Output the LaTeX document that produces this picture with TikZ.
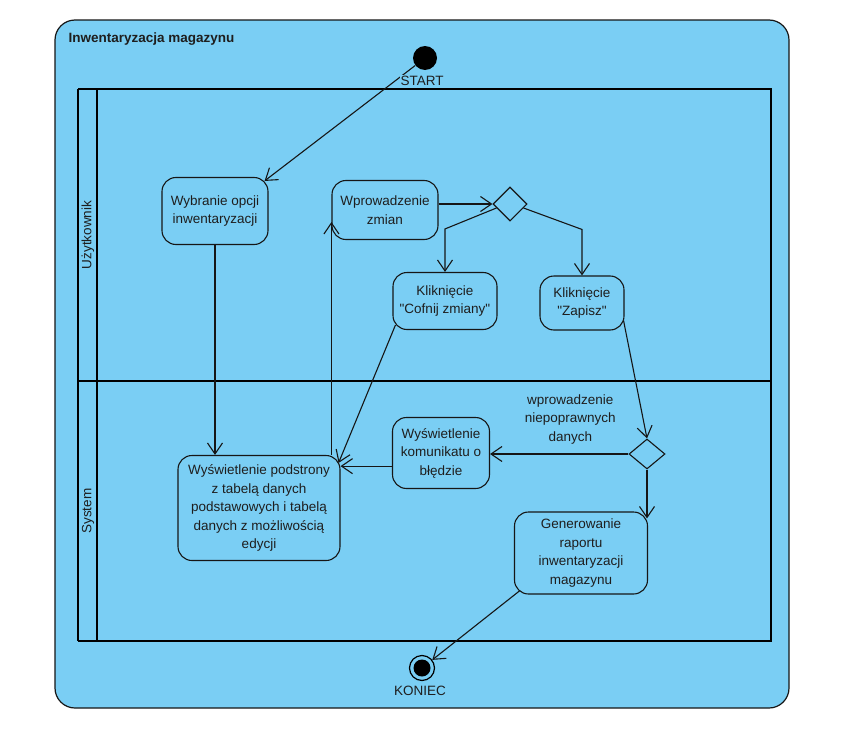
\documentclass[tikz,border=0pt]{standalone}
\usepackage{fontspec}
\setmainfont{Liberation Sans}[Ligatures=TeXOff]
\usetikzlibrary{arrows.meta,shapes.geometric,calc}
\definecolor{diagbg}{RGB}{122,206,244}
\definecolor{diagline}{RGB}{22,22,22}
\definecolor{diagtext}{RGB}{30,30,30}

\begin{document}
\begin{tikzpicture}[x=1pt, y=-1pt,
    action/.style={draw=diagline, line width=1.1pt, rectangle, rounded corners=14pt, align=center, text=diagtext, inner sep=2pt, font=\fontsize{13.5}{18.5}\selectfont},
    decision/.style={draw=diagline, line width=1.1pt, diamond, inner sep=0pt},
    flow/.style={draw=diagline, line width=1.1pt, -{Straight Barb[length=11pt,width=15pt]}},
    lane/.style={draw=black, line width=2.2pt},
    plain/.style={text=diagtext, font=\fontsize{13.5}{18.5}\selectfont, align=center}]
            \useasboundingbox (0,0) rectangle (852,736);
            \draw[diagline, line width=1.2pt, fill=diagbg, rounded corners=20pt] (55,20) rectangle (789,708);
            \node[plain, anchor=base west, font=\bfseries\fontsize{13.5}{18.5}\selectfont] (title) at (65,42) {Inwentaryzacja magazynu};

            \draw[black, line width=1.5pt] (78,89) -- (78,641);
            \draw[lane] (78,89) -- (771,89) -- (771,641) -- (78,641);
            \draw[lane] (97,89) -- (97,641);
            \draw[lane] (78,381) -- (771,381);
            \node[plain, rotate=90] (user) at (88,235) {Użytkownik};
            \node[plain, rotate=90] (sys) at (88,511) {System};

            \node[circle, fill=black, minimum size=24pt, inner sep=0pt] (start) at (425,58) {};
            \node[circle, draw=black, line width=1.2pt, minimum size=25pt, inner sep=0pt, path picture={\fill[black] (path picture bounding box.center) circle (8.5);}] (koniec) at (422,668) {};

            \node[action, minimum width=106pt, minimum height=67pt] (wybranie) at (215,211) {Wybranie opcji\\inwentaryzacji};
            \node[action, minimum width=106pt, minimum height=59pt] (wprow) at (385,210) {Wprowadzenie\\zmian};
            \node[decision, minimum width=34pt, minimum height=34pt] (dec1) at (510,204) {};
            \node[action, minimum width=104pt, minimum height=57pt] (cofnij) at (445,301) {Kliknięcie\\"Cofnij zmiany"};
            \node[action, minimum width=84pt, minimum height=54pt] (zapisz) at (582,303) {Kliknięcie\\"Zapisz"};
            \node[action, minimum width=162pt, minimum height=105pt] (podstrony) at (259,508) {Wyświetlenie podstrony\\z tabelą danych\\podstawowych i tabelą\\danych z możliwością\\edycji};
            \node[action, minimum width=97pt, minimum height=71pt] (komunikat) at (441,453) {Wyświetlenie\\komunikatu o\\błędzie};
            \node[decision, minimum width=36pt, minimum height=30pt] (dec2) at (647,454) {};
            \node[action, minimum width=133pt, minimum height=82pt] (raport) at (581,553) {Generowanie\\raportu\\inwentaryzacji\\magazynu};

            \draw[flow] (start) -- ([shift={(-4,4)}]wybranie.north east);
            \node[plain, anchor=base, fill=diagbg, inner sep=1pt] (startlabel) at (422,85) {START};
            \draw[flow] (wybranie.south) -- (wybranie.south |- podstrony.north);
            \draw[flow] (podstrony.north -| wprow.west) -- ([shift={(0,12)}]wprow.west);
            \draw[flow] (wprow.east |- dec1.west) -- (dec1.west);
            \draw[flow] ([shift={(4,4)}]dec1.west) -- ([shift={(0,-43)}]cofnij.north) -- (cofnij.north);
            \draw[flow] ([shift={(-4,4)}]dec1.east) -- ([shift={(0,-46)}]zapisz.north) -- (zapisz.north);
            \draw[flow] ([shift={(3,-5)}]cofnij.south west) -- ([shift={(-2,8)}]podstrony.north east);
            \draw[flow] ([shift={(-1,-10)}]zapisz.south east) -- (dec2.north);
            \draw[flow] (dec2.west) -- (dec2.west -| komunikat.east) node[plain, above=6pt, pos=0.42] (bledne) {wprowadzenie\\niepoprawnych\\danych};
            \draw[flow] (komunikat.195) -- (komunikat.195 -| podstrony.east);
            \draw[flow] (dec2.south) -- ($(dec2.south |- raport.north)+(0,7)$);
            \draw[flow] ([shift={(6,-4)}]raport.south west) -- (koniec);
            \node[plain, anchor=base] (koniectext) at (420,695) {KONIEC};
        \end{tikzpicture}
\end{document}
